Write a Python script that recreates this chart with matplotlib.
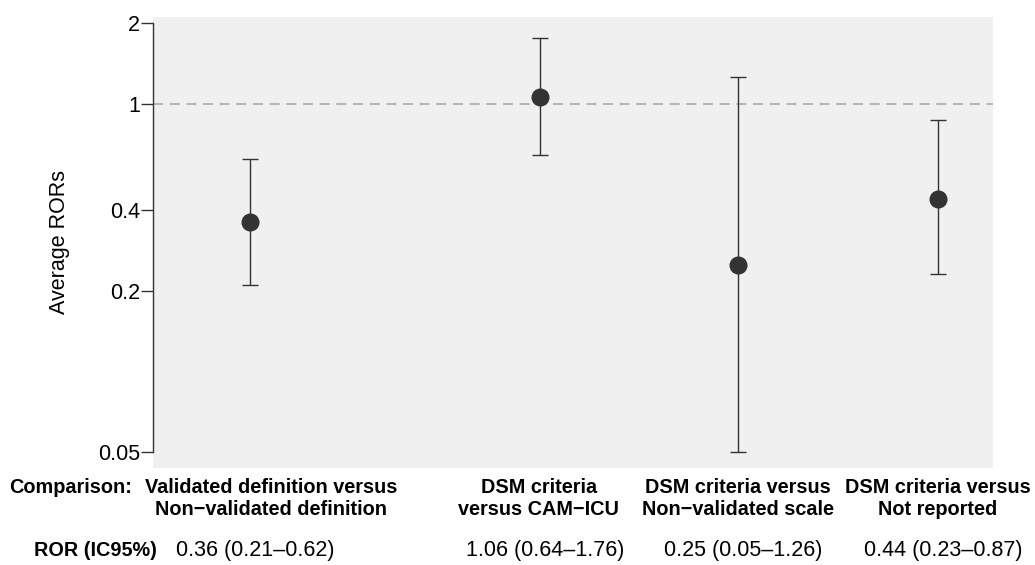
import matplotlib
matplotlib.use("Agg")
import matplotlib.pyplot as plt

# data -------------------------------------------------------------
comparisons = [["Validated definition versus", "Non\u2212validated definition"],
               ["DSM criteria", "versus CAM\u2212ICU"],
               ["DSM criteria versus", "Non\u2212validated scale"],
               ["DSM criteria versus", "Not reported"]]
ror = [0.36, 1.06, 0.25, 0.44]
ci_low = [0.21, 0.64, 0.05, 0.23]
ci_high = [0.62, 1.76, 1.26, 0.87]
yticks = [0.05, 0.2, 0.4, 1, 2]
ytick_labels = ["0.05", "0.2", "0.4", "1", "2"]

# layout (category positions on the x axis)
xpos = [1, 2.45, 3.44, 4.44]

plt.rcParams['font.family'] = ['Liberation Sans', 'DejaVu Sans']
W, H = 1035, 565
fig = plt.figure(figsize=(W / 100, H / 100), dpi=100)
ax = fig.add_axes([153 / W, 1 - 468 / H, 840 / W, 451 / H])
ax.set_facecolor('#f0f0f0')

ax.set_yscale('log')
ax.set_ylim(0.04356, 2.105)
ax.set_xlim(0.515, 4.715)

ax.axhline(1, color='#aaaaaa', lw=1.2, ls=(0, (6, 4)), zorder=1)

err = [[r - l for r, l in zip(ror, ci_low)], [h - r for r, h in zip(ror, ci_high)]]
ax.errorbar(xpos, ror, yerr=err, fmt='o', color='#333333', ms=12,
            elinewidth=1.0, capsize=5.5, capthick=1.0, zorder=3)

for s in ['top', 'right', 'bottom']:
    ax.spines[s].set_visible(False)
ax.spines['left'].set_bounds(0.05, 2)
ax.spines['left'].set_color('#333333')
ax.spines['left'].set_linewidth(1.0)
ax.set_xticks([])
ax.set_yticks(yticks)
ax.set_yticklabels(ytick_labels)
ax.minorticks_off()
ax.tick_params(axis='y', length=9, width=1.0, color='#333333', pad=0.5,
               labelsize=15.5)
ax.set_ylabel("Average RORs", fontsize=15.5, labelpad=20)

# table beneath the plot
def fx(px):
    return px / W

def fy(py):
    return 1 - py / H

BOLD = 14.3
fig.text(fx(132), fy(493), "Comparison:", ha='right', va='baseline',
         fontsize=BOLD, fontweight='bold')
label_cx = [271, 539, 738, 938]
for cx, lines in zip(label_cx, comparisons):
    for ly, line in zip([493, 515], lines):
        fig.text(fx(cx), fy(ly), line, ha='center', va='baseline',
                 fontsize=BOLD, fontweight='bold')

fig.text(fx(157), fy(556), "ROR (IC95%)", ha='right', va='baseline',
         fontsize=BOLD, fontweight='bold')
val_cx = [255, 545, 743, 943]
for cx, r, l, h in zip(val_cx, ror, ci_low, ci_high):
    fig.text(fx(cx), fy(556), f"{r:.2f} ({l:.2f}\u2013{h:.2f})",
             ha='center', va='baseline', fontsize=15.5)

fig.savefig("out.png", dpi=100)
